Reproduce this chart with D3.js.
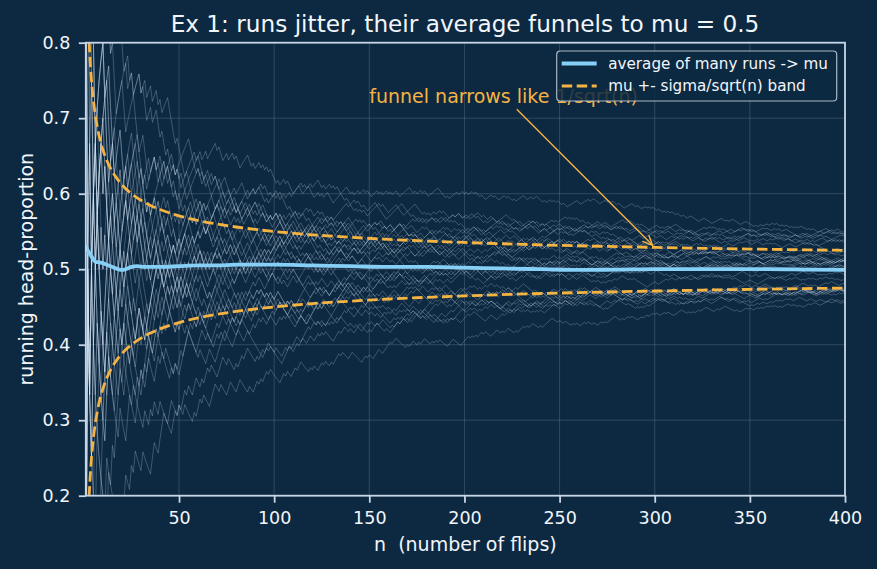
<!DOCTYPE html>
<html><head><meta charset="utf-8">
<script src="https://cdn.jsdelivr.net/npm/d3@7"></script>
<style>
html,body{margin:0;padding:0;background:#0d2942;}
svg{display:block;font-family:"DejaVu Sans",sans-serif;}
</style></head><body>
<svg id="chart" width="877" height="569"></svg>
<script>
// ---------------- data ----------------
const MU = 0.5;
const titleText = "Ex 1: runs jitter, their average funnels to mu = 0.5";
const xLabel = "n  (number of flips)";
const yLabel = "running head-proportion";
const xTicks = [50, 100, 150, 200, 250, 300, 350, 400];
const yTicks = [0.2, 0.3, 0.4, 0.5, 0.6, 0.7, 0.8];
const legendLabels = ["average of many runs -> mu", "mu +- sigma/sqrt(n) band"];
const annotText = "funnel narrows like 1/sqrt(n)";
const annotPos = [150, 0.72];
const annotTarget = [300, 0.529];

// average of many runs
const avgN = [1,2,3,4,5,6,8,10,12,15,18,20,22,25,28,32,40,50,60,70,80,90,100,120,140,160,180,200,220,240,260,280,300,320,340,360,380,400];
const avgP = [0.532,0.525,0.521,0.517,0.513,0.510,0.509,0.508,0.506,0.503,0.500,0.499,0.500,0.503,0.504,0.503,0.503,0.504,0.505,0.505,0.506,0.506,0.506,0.505,0.504,0.503,0.503,0.502,0.501,0.500,0.499,0.4995,0.500,0.500,0.500,0.500,0.4995,0.499];

// half-width of the band, sigma/sqrt(n)
const bandN = [1,2,3,4,5,6,7,8,9,10,12,14,16,18,20,25,30,35,40,50,60,70,80,90,100,120,140,160,180,200,225,250,275,300,325,350,375,400];
const bandHalf = [0.5,0.3536,0.2887,0.25,0.2236,0.2041,0.189,0.1768,0.1667,0.1581,0.1443,0.1336,0.125,0.1179,0.1118,0.1,0.0913,0.0845,0.0791,0.0707,0.0645,0.0598,0.0559,0.0527,0.05,0.0456,0.0423,0.0395,0.0373,0.0354,0.0333,0.0316,0.0302,0.0289,0.0277,0.0267,0.0258,0.025];

// individual runs: coin flips, hex-packed (bit 1 = heads), 400 flips each
const runFlips = [
 "F7DBE6B B6D7 0 9E5B7A6D3CB54 5A39C6B1E4D27A8F0C95 6B3D95A2E7C 48F1A6C93B5 D2749E0BA63 5C8E6A1D793 A5B2C69E47D",
 "6DA3B 7E5B9D6A3F 5A9C6E3B175 B7D6E5A9CB6 9D6B3E5A7C2F6B49D3A5E 6C5A93E7B1D48F26A 4A9261C3E5870B6D2958A3C14",
 "420814A21 9C35A6 5A3916C2B48D726 6A1D9385C27B4E5906A3D81C76B2953E 3A59C1E6842B7D095A6C3E1842D9B5A70C6392",
 "4812 A341 290C48 5A3918C26B41A 6C29A5D1834E7B05962A1C3 D5A3962EB17C48A6935E2D1B6 9A3C56E1B8274D6A5C93B1E62",
 "5B3C 7DA5 5A38 7DBA 9C14 7A69 BE69 2813 5A3C F3C6 E3D4 A41C FE3C F1A6 9C16 6E08 E7B1 9DC5 4A18 5FD2 96C3 2B68 D9B6 B6E2 5A12",
 "4C29 A49C 8C05 3F58 0D58 E1B4 C6A1 C7E6 9C14 3248 6AD9 7DA5 80F3 A41C F05A BD7A 3A58 6E08 AE5C 6C92 BE69 0E24 3D86 C7A3 5A38",
 "E5F9 F3C6 5B3C 9C16 E7B1 7DBA 5A12 7A69 5FD2 A7C1 FE3C 2B68 D9B6 4C29 E3D4 BD7A A49C C7E6 2813 F1A6 7DA5 0F69 0D58 9DC5 BE69",
 "C6A1 B6E2 9C14 4A18 F3C6 80F3 A41C 3A58 3F58 8C05 6E08 E7B1 6C92 B48E 5A12 6AD9 3248 5FD2 5A38 9C16 AE5C 4C29 E5F9 2B68 6C5A",
 "D2A9 0D58 7DBA D9B6 C7A3 A49C FE3C C7E6 C6A1 7DA5 9C14 5B3C BD7A 19E6 80F3 BE69 7A69 A41C F3C6 3A58 E3D4 E5F9 6E08 C3B2 F1A6",
 "F7DA 7DBA 6C92 E7B1 5A12 9DC5 5A3C 0E24 B6E2 5A38 5FD2 4C29 9C16 3F58 2813 D9B6 96C3 2B68 6AD9 0D58 C7E6 A49C E1B4 AE5C 9C14",
 "4A18 A41C C6A1 6E08 C7A3 8C05 80F3 7DA5 5A12 3A58 5B3C 4C29 BE69 6C92 7A69 F05A F3C6 5A38 E3D4 0D58 F1A6 E7B1 9C16 9DC5 3D86",
 "B6E2 2B68 5FD2 3F58 FE3C 9C14 6AD9 D9B6 C7E6 A49C BD7A AE5C A41C 7DA5 A7C1 C7A3 BE69 C6A1 E5F9 6E08 5B3C F3C6 7A69 80F3 E7B1",
 "5FD2 E3D4 5A12 3A58 3248 0F69 4C29 F1A6 6C92 0D58 D9B6 0E24 9DC5 5A38 B48E 9C14 B6E2 A41C C7E6 9C16 6C5A 2B68 3F58 6E08 6AD9",
 "A49C 2813 7DA5 5A12 C6A1 AE5C 4A18 4C29 C7A3 D2A9 0D58 80F3 BE69 8C05 5B3C 3A58 F3C6 9C14 19E6 6C92 E7B1 A41C 7A69 5A38 E3D4",
 "5FD2 6E08 F1A6 D9B6 9C16 C7E6 3248 9DC5 7DA5 2B68 C3B2 BE69 5A12 B6E2 7DBA A49C 4C29 3F58 5A3C F3C6 C6A1 6AD9 0D58 E7B1 80F3",
 "9C14 FE3C 5FD2 AE5C BD7A 3A58 D9B6 A41C C7A3 0E24 96C3 6C92 C7E6 6E08 5A38 5B3C 5A12 E1B4 7A69 4C29 E3D4 9C16 F05A F1A6 2B68",
 "9DC5 2813 0D58 B6E2 7DA5 E5F9 3F58 BE69 A49C 7DBA 6AD9 9C14 F3C6 AE5C C6A1 3D86 E7B1 4A18 C7A3 80F3 5FD2 A41C 3A58 5B3C D9B6",
 "A7C1 C7E6 6C92 6E08 7A69 5A38 7DA5 9C16 FE3C BE69 2B68 E3D4 F3C6 5A12 BD7A F1A6 A49C E7B1 9DC5 5FD2 C6A1 B6E2 D9B6 4C29 3F58",
 "80F3 8C05 C7E6 E5F9 6AD9 0D58 7DA5 3A58 9C14 3248 AE5C A41C 0F69 6C92 0E24 BE69 5A38 6E08 C7A3 9C16 B48E 5A12 5B3C 2B68 7A69",
 "F3C6 6C5A 2813 A49C 4C29 E7B1 E3D4 0D58 C6A1 5FD2 9C14 F1A6 7DBA 80F3 D9B6 3A58 A41C 9DC5 C7E6 6C92 B6E2 6E08 7DA5 3F58 5A38",
 "4A18 6AD9 BE69 FE3C F3C6 AE5C 9C16 BD7A 5A12 C7A3 E7B1 D2A9 2B68 4C29 5B3C 5FD2 A49C 8C05 7A69 19E6 D9B6 C6A1 0D58 E3D4 80F3",
 "F1A6 9C14 3248 A41C 9DC5 3A58 6E08 C7E6 B6E2 E5F9 6C92 7DA5 5A12 3F58 BE69 C3B2 6AD9 5A38 F3C6 AE5C 4C29 C7A3 E7B1 9C16 5B3C",
 "5A3C 7DBA 5FD2 2B68 0D58 0E24 A49C 9C14 7A69 2813 A41C E3D4 C6A1 D9B6 6E08 80F3 F1A6 5A12 96C3 3A58 C7E6 6C92 4C29 9DC5 E1B4",
 "0D58 5A38 7DA5 B6E2 BE69 9C16 FE3C F3C6 3F58 E7B1 9C14 BD7A 6AD9 5FD2 2B68 D9B6 4A18 A41C AE5C 6E08 A49C 5A12 C7A3 4C29 F05A",
 "E5F9 0D58 9C14 5B3C C6A1 C7E6 A41C 7A69 80F3 3D86 6E08 E3D4 7DA5 3A58 5A12 F1A6 6C92 BE69 5A38 4C29 9DC5 A7C1 9C16 F3C6 2B68",
 "A49C E7B1 0D58 8C05 9C14 B6E2 C6A1 5FD2 7DBA 80F3 D9B6 3F58 A41C 6AD9 C7E6 3A58 AE5C 7DA5 6C92 0F69 BE69 6E08 C7A3 5A38 5B3C",
 "F3C6 E7B1 7A69 5FD2 9C16 E3D4 5A12 2B68 3248 F1A6 4C29 A49C B48E 0D58 9DC5 C6A1 9C14 B6E2 80F3 D9B6 3A58 A41C 3F58 6C5A 6C92",
 "5A38 6E08 FE3C 6AD9 9C16 C7E6 BD7A 5A12 7DA5 AE5C 2B68 BE69 C7A3 4C29 E5F9 A49C 5B3C F3C6 0D58 7A69 D2A9 E7B1 C6A1 E3D4 80F3",
 "F1A6 9DC5 0E24 5FD2 3A58 D9B6 B6E2 2813 3F58 C7E6 9C14 19E6 6AD9 6C92 7DA5 AE5C A41C C7A3 BE69 5A38 6E08 5B3C C3B2 F3C6 9C16",
 "5A3C 4A18 E7B1 2B68 5A12 7A69 4C29 A49C 5FD2 0D58 E3D4 C6A1 9C14 F1A6 80F3 A41C 9DC5 96C3 6E08 B6E2 3A58 D9B6 6C92 5A12 3F58"
];

// ---------------- layout / style ----------------
const W = 877, H = 569;
const plot = {left: 85.8, right: 845, top: 42.7, bottom: 495.7};
const C = {
  bg: "#0d2942", spine: "#c6d6e6", text: "#f2f6fa", grid: "rgba(255,255,255,0.15)",
  run: "#d6e6f6", avg: "#86d0f8", band: "#f5b342"
};

const svg = d3.select("#chart");
svg.append("rect").attr("width", W).attr("height", H).attr("fill", C.bg);

const x = d3.scaleLinear().domain([1, 400]).range([plot.left, plot.right]);
const y = d3.scaleLinear().domain([0.2, 0.8]).range([plot.bottom, plot.top]);

svg.append("defs").append("clipPath").attr("id", "clip")
  .append("rect").attr("x", plot.left).attr("y", plot.top)
  .attr("width", plot.right - plot.left).attr("height", plot.bottom - plot.top);

// grid
const grid = svg.append("g");
grid.selectAll(".gx").data(xTicks).join("line")
  .attr("x1", d => x(d)).attr("x2", d => x(d)).attr("y1", plot.top).attr("y2", plot.bottom)
  .attr("stroke", C.grid).attr("stroke-width", 1);
grid.selectAll(".gy").data(yTicks).join("line")
  .attr("y1", d => y(d)).attr("y2", d => y(d)).attr("x1", plot.left).attr("x2", plot.right)
  .attr("stroke", C.grid).attr("stroke-width", 1);

// decode runs
function runningProportion(hex) {
  const pts = []; let h = 0, n = 0;
  for (const ch of hex) {
    if (ch === " ") continue;
    const v = parseInt(ch, 16);
    for (let b = 3; b >= 0; b--) {
      n++; h += (v >> b) & 1; pts.push([n, h / n]);
      if (n >= 400) return pts;
    }
  }
  return pts;
}
const runs = runFlips.map(runningProportion);

const body = svg.append("g").attr("clip-path", "url(#clip)");
const line = d3.line().x(d => x(d[0])).y(d => y(d[1]));

body.append("g").selectAll("path").data(runs).join("path")
  .attr("d", line).attr("fill", "none")
  .attr("stroke", C.run).attr("stroke-opacity", 0.28).attr("stroke-width", 0.9)
  .attr("stroke-linejoin", "round");

// average line
const avgData = avgN.map((n, i) => [n, avgP[i]]);
body.append("path").datum(avgData)
  .attr("d", d3.line().x(d => x(d[0])).y(d => y(d[1])).curve(d3.curveMonotoneX))
  .attr("fill", "none").attr("stroke", C.avg).attr("stroke-width", 3.8);

// band
const bandLine = d3.line().x(d => x(d[0])).y(d => y(d[1])).curve(d3.curveMonotoneX);
const upper = bandN.map((n, i) => [n, MU + bandHalf[i]]);
const lower = bandN.map((n, i) => [n, MU - bandHalf[i]]);
[upper, lower].forEach(dat => {
  body.append("path").datum(dat).attr("d", bandLine)
    .attr("fill", "none").attr("stroke", C.band).attr("stroke-width", 2.8)
    .attr("stroke-dasharray", "10.5,4.5");
});

// spines
svg.append("rect").attr("x", plot.left).attr("y", plot.top)
  .attr("width", plot.right - plot.left).attr("height", plot.bottom - plot.top)
  .attr("fill", "none").attr("stroke", C.spine).attr("stroke-width", 1.8);

// axes
const xAxis = svg.append("g").attr("transform", `translate(0,${plot.bottom})`)
  .call(d3.axisBottom(x).tickValues(xTicks).tickSize(7).tickPadding(9).tickFormat(d3.format("d")));
const yAxis = svg.append("g").attr("transform", `translate(${plot.left},0)`)
  .call(d3.axisLeft(y).tickValues(yTicks).tickSize(7).tickPadding(8.5).tickFormat(d3.format(".1f")));
[xAxis, yAxis].forEach(a => {
  a.select(".domain").remove();
  a.selectAll(".tick line").attr("stroke", C.spine).attr("stroke-width", 1.8);
  a.selectAll(".tick text").attr("fill", C.text).style("font-size", "17.5px")
    .style("font-family", '"DejaVu Sans", sans-serif');
});

// labels
svg.append("text").attr("x", 465).attr("y", 32).attr("text-anchor", "middle")
  .attr("fill", C.text).style("font-size", "23.2px").text(titleText);
svg.append("text").attr("x", (plot.left + plot.right) / 2).attr("y", 551).attr("text-anchor", "middle")
  .attr("fill", C.text).style("font-size", "19px").style("white-space", "pre").text(xLabel);
svg.append("text").attr("transform", `translate(26,${(plot.top + plot.bottom) / 2}) rotate(-90)`)
  .attr("text-anchor", "middle").attr("dominant-baseline", "central")
  .attr("fill", C.text).style("font-size", "19px").text(yLabel);

// annotation
const ann = svg.append("g");
const atext = ann.append("text").attr("x", x(annotPos[0])).attr("y", y(annotPos[1]))
  .attr("fill", C.band).style("font-size", "19px").text(annotText);
{
  const bb = atext.node().getBBox();
  const cx = bb.x + bb.width / 2, cy = bb.y + bb.height / 2;
  const px = x(annotTarget[0]), py = y(annotTarget[1]);
  const dx = px - cx, dy = py - cy, L = Math.hypot(dx, dy);
  const ux = dx / L, uy = dy / L;
  const t = Math.min((bb.width / 2) / Math.abs(dx), (bb.height / 2) / Math.abs(dy));
  const sx = cx + dx * t + ux * 3, sy = cy + dy * t + uy * 3;
  const ex = px - ux * 3, ey = py - uy * 3;
  ann.append("line").attr("x1", sx).attr("y1", sy).attr("x2", ex).attr("y2", ey)
    .attr("stroke", C.band).attr("stroke-width", 1.4);
  const hl = 10, hw = 4.5, nx = -uy, ny = ux;
  ann.append("path")
    .attr("d", `M${ex - ux * hl + nx * hw},${ey - uy * hl + ny * hw}L${ex},${ey}L${ex - ux * hl - nx * hw},${ey - uy * hl - ny * hw}`)
    .attr("fill", "none").attr("stroke", C.band).attr("stroke-width", 1.4);
}

// legend
const lg = svg.append("g").attr("transform", "translate(556.7,51)");
lg.append("rect").attr("width", 280).attr("height", 50).attr("rx", 3.5)
  .attr("fill", C.bg).attr("fill-opacity", 0.85)
  .attr("stroke", "#c8d0d8").attr("stroke-opacity", 0.85).attr("stroke-width", 1.2);
const rows = [
  {label: legendLabels[0], color: C.avg, w: 3.8, dash: null},
  {label: legendLabels[1], color: C.band, w: 2.8, dash: "10.5,4.5"}
];
rows.forEach((r, i) => {
  const yy = 12.5 + i * 22.5;
  lg.append("line").attr("x1", 5).attr("x2", 40).attr("y1", yy).attr("y2", yy)
    .attr("stroke", r.color).attr("stroke-width", r.w)
    .attr("stroke-dasharray", r.dash);
  lg.append("text").attr("x", 51.5).attr("y", yy).attr("dy", "0.35em")
    .attr("fill", C.text).style("font-size", "15.2px").text(r.label);
});
</script>
</body></html>
